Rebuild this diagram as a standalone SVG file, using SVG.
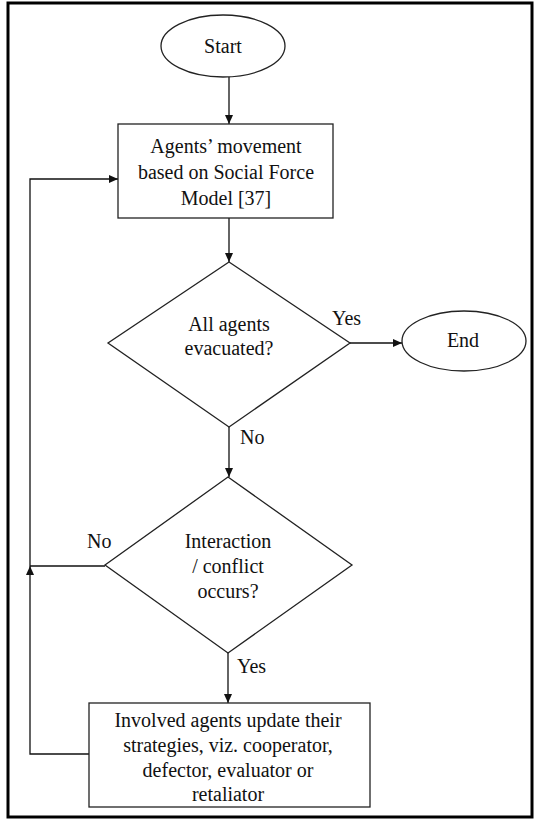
<svg xmlns="http://www.w3.org/2000/svg" width="535" height="820" viewBox="0 0 535 820">
<style>
.s{fill:#fff;stroke:#222;stroke-width:1.3}
.c{fill:none;stroke:#111;stroke-width:1.3}
.t{font-family:'Liberation Serif','DejaVu Serif',serif;font-size:20px;fill:#111}
.m{text-anchor:middle}
</style>
<defs>
<marker id="ah" markerWidth="10" markerHeight="10" refX="9" refY="5" orient="auto" markerUnits="userSpaceOnUse">
<path d="M0,1 L9,5 L0,9 Z" fill="#111"/>
</marker>
</defs>
<rect x="8" y="3" width="524" height="814" fill="#fff" stroke="#000" stroke-width="3"/>
<g id="connectors">
<line class="c" x1="229" y1="77" x2="229" y2="124" marker-end="url(#ah)"/>
<line class="c" x1="229" y1="218" x2="229" y2="262" marker-end="url(#ah)"/>
<line class="c" x1="350" y1="343" x2="402" y2="343" marker-end="url(#ah)"/>
<line class="c" x1="229" y1="427" x2="229" y2="477" marker-end="url(#ah)"/>
<line class="c" x1="228" y1="653" x2="228" y2="703" marker-end="url(#ah)"/>
<polyline class="c" points="105,566 30,566"/>
<polyline class="c" points="89,754 30,754 30,566" marker-end="url(#ah)"/>
<polyline class="c" points="30,566 30,179 118,179" marker-end="url(#ah)"/>
<text class="t" x="332" y="325" font-family="Liberation Serif, serif">Yes</text>
<text class="t" x="240" y="444" font-family="Liberation Serif, serif">No</text>
<text class="t" x="87" y="548" font-family="Liberation Serif, serif">No</text>
<text class="t" x="237" y="673" font-family="Liberation Serif, serif">Yes</text>
</g>
<g id="start">
<ellipse class="s" cx="223" cy="46" rx="62" ry="31"/>
<text class="t m" x="223" y="53">Start</text>
</g>
<g id="move">
<rect class="s" x="118" y="124" width="215" height="94"/>
<text class="t m" x="226" y="153">Agents’ movement</text>
<text class="t m" x="226" y="179">based on Social Force</text>
<text class="t m" x="226" y="205">Model [37]</text>
</g>
<g id="evacuated">
<polygon class="s" points="229,262 350,343 229,427 108,343"/>
<text class="t m" x="229" y="331">All agents</text>
<text class="t m" x="229" y="355">evacuated?</text>
</g>
<g id="end">
<ellipse class="s" cx="464" cy="341" rx="62" ry="30"/>
<text class="t m" x="463" y="347">End</text>
</g>
<g id="interaction">
<polygon class="s" points="228,477 352,565 228,653 105,565"/>
<text class="t m" x="228" y="548">Interaction</text>
<text class="t m" x="228" y="573">/ conflict</text>
<text class="t m" x="228" y="598">occurs?</text>
</g>
<g id="update">
<rect class="s" x="89" y="703" width="281" height="104"/>
<text class="t m" x="228" y="727">Involved agents update their</text>
<text class="t m" x="228" y="752">strategies, viz. cooperator,</text>
<text class="t m" x="228" y="777">defector, evaluator or</text>
<text class="t m" x="228" y="801">retaliator</text>
</g>
</svg>
